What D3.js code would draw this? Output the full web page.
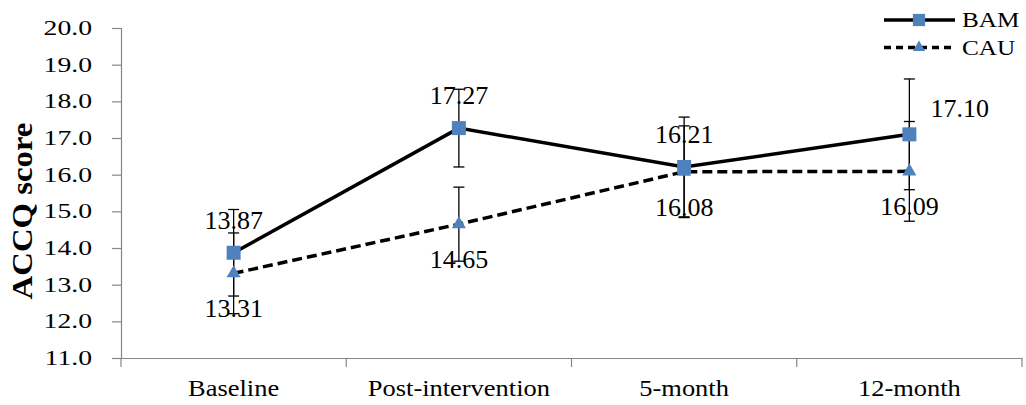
<!DOCTYPE html>
<html>
<head>
<meta charset="utf-8">
<script src="https://cdn.jsdelivr.net/npm/d3@7"></script>
<style>
  body { margin: 0; background: #fff; }
  svg { display: block; font-family: "Liberation Serif", "Times New Roman", serif; }
</style>
</head>
<body>
<div id="chart"></div>
<script>
// ACCQ score over time, BAM vs CAU

// data
var categories = ["Baseline", "Post-intervention", "5-month", "12-month"];
var bamMeans = [13.87, 17.27, 16.21, 17.10];
var bamErr = [1.18, 1.06, 1.36, 1.51];
var cauMeans = [13.31, 14.65, 16.08, 16.09];
var cauErr = [1.10, 1.01, 1.25, 1.36];
var yTicks = [11, 12, 13, 14, 15, 16, 17, 18, 19, 20];
var seriesNames = ["BAM", "CAU"];

var w = 1026;
var h = 405;
var blue = "#4F81BD";
var axisGrey = "#868686";

var svg = d3.select("#chart")
  .append("svg")
  .attr("width", w)
  .attr("height", h);

svg.append("rect").attr("width", w).attr("height", h).attr("fill", "#fff");

// scales
var x = d3.scaleBand().domain(categories).range([121, 1022]).padding(0);
var y = d3.scaleLinear().domain([11, 20]).range([358, 28]);
var cx = function(i) { return x(categories[i]) + x.bandwidth() / 2; };

// y axis
var yAxis = svg.append("g")
  .attr("transform", "translate(121,0)")
  .call(d3.axisLeft(y).tickValues(yTicks).tickFormat(d3.format(".1f")).tickSize(9));
yAxis.select(".domain").attr("stroke", axisGrey).attr("stroke-width", 1.2);
yAxis.selectAll(".tick line").attr("stroke", axisGrey).attr("stroke-width", 1.2);
yAxis.selectAll(".tick text")
  .attr("x", -29 / 1.35)
  .attr("transform", "scale(1.35,1)")
  .attr("font-size", "20.5px")
  .attr("font-family", "Liberation Serif")
  .attr("fill", "#000");

// x axis (labels in band centres, ticks on the band edges)
var xAxis = svg.append("g")
  .attr("transform", "translate(0,358)")
  .call(d3.axisBottom(x).tickSize(0));
xAxis.select(".domain").attr("stroke", axisGrey).attr("stroke-width", 1.2);
xAxis.selectAll(".tick text")
  .attr("y", 38)
  .attr("dy", null)
  .attr("transform", "scale(1.15,1)")
  .attr("font-size", "23px")
  .attr("font-family", "Liberation Serif")
  .attr("fill", "#000");

var edges = categories.map(function(c) { return x(c); }).concat([x(categories[categories.length - 1]) + x.bandwidth()]);
svg.append("g").selectAll("line")
  .data(edges)
  .enter()
  .append("line")
  .attr("x1", function(d) { return d; })
  .attr("x2", function(d) { return d; })
  .attr("y1", 358)
  .attr("y2", 367)
  .attr("stroke", axisGrey)
  .attr("stroke-width", 1.2);

// y axis title
svg.append("text")
  .attr("transform", "translate(32,211) rotate(-90) scale(1.13,1)")
  .attr("text-anchor", "middle")
  .attr("font-size", "29px")
  .attr("font-weight", "bold")
  .attr("font-family", "Liberation Serif")
  .text("ACCQ score");

// lines
var line = d3.line()
  .x(function(d, i) { return cx(i); })
  .y(function(d) { return y(d); });

svg.append("path")
  .datum(cauMeans)
  .attr("d", line)
  .attr("fill", "none")
  .attr("stroke", "#000")
  .attr("stroke-width", 3.5)
  .attr("stroke-dasharray", "10,5");

svg.append("path")
  .datum(bamMeans)
  .attr("d", line)
  .attr("fill", "none")
  .attr("stroke", "#000")
  .attr("stroke-width", 3.5);

// error bars
function errorBars(means, errs) {
  var g = svg.append("g").attr("stroke", "#000").attr("stroke-width", 1.3);
  means.forEach(function(m, i) {
    var lo = y(m - errs[i]), hi = y(m + errs[i]), px = cx(i);
    g.append("line").attr("x1", px).attr("x2", px).attr("y1", lo).attr("y2", hi);
    g.append("line").attr("x1", px - 5.5).attr("x2", px + 5.5).attr("y1", lo).attr("y2", lo);
    g.append("line").attr("x1", px - 5.5).attr("x2", px + 5.5).attr("y1", hi).attr("y2", hi);
  });
}
errorBars(bamMeans, bamErr);
errorBars(cauMeans, cauErr);

// markers
var square = d3.symbol().type(d3.symbolSquare).size(196);
var triangle = d3.symbol().type(d3.symbolTriangle).size(85);

svg.append("g").selectAll("path")
  .data(cauMeans)
  .enter()
  .append("path")
  .attr("d", triangle)
  .attr("transform", function(d, i) { return "translate(" + cx(i) + "," + y(d) + ")"; })
  .attr("fill", blue);

svg.append("g").selectAll("path")
  .data(bamMeans)
  .enter()
  .append("path")
  .attr("d", square)
  .attr("transform", function(d, i) { return "translate(" + cx(i) + "," + y(d) + ")"; })
  .attr("fill", blue);

// data labels
var fmt = d3.format(".2f");
svg.append("g").selectAll("text")
  .data(bamMeans)
  .enter()
  .append("text")
  .text(function(d) { return fmt(d); })
  .attr("text-anchor", function(d, i) { return i === bamMeans.length - 1 ? "start" : "middle"; })
  .attr("x", function(d, i) { return i === bamMeans.length - 1 ? cx(i) + 21 : cx(i); })
  .attr("y", function(d, i) { return i === bamMeans.length - 1 ? y(d) - 17 : y(d) - 24; })
  .attr("font-size", "26px")
  .attr("fill", "#000");

svg.append("g").selectAll("text")
  .data(cauMeans)
  .enter()
  .append("text")
  .text(function(d) { return fmt(d); })
  .attr("text-anchor", "middle")
  .attr("x", function(d, i) { return cx(i); })
  .attr("y", function(d) { return y(d) + 44; })
  .attr("font-size", "26px")
  .attr("fill", "#000");

// legend
var legend = svg.append("g");
seriesNames.forEach(function(name, i) {
  var ly = 20 + i * 27.5;
  legend.append("line")
    .attr("x1", 884).attr("x2", 955)
    .attr("y1", ly).attr("y2", ly)
    .attr("stroke", "#000")
    .attr("stroke-width", 3.5)
    .attr("stroke-dasharray", i === 0 ? null : "7,5");
  legend.append("path")
    .attr("d", i === 0 ? d3.symbol().type(d3.symbolSquare).size(150)() : d3.symbol().type(d3.symbolTriangle).size(65)())
    .attr("transform", "translate(919," + ly + ")")
    .attr("fill", blue);
  legend.append("text")
    .attr("transform", "translate(962," + (ly + 7) + ") scale(1.2,1)")
    .attr("font-size", "21px")
    .attr("fill", "#000")
    .text(name);
});
</script>
</body>
</html>
